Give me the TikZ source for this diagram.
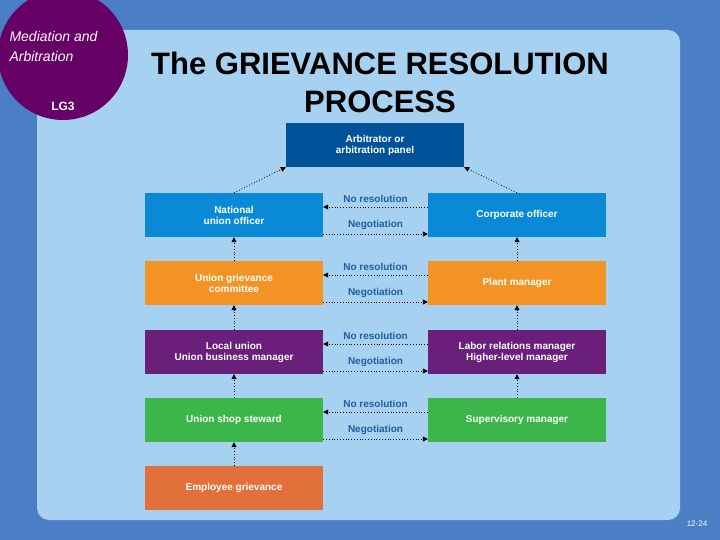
\documentclass[tikz,border=0pt]{standalone}
\usepackage{fontspec}
\setmainfont{Liberation Sans}
\usetikzlibrary{positioning,calc,arrows.meta}
\definecolor{slideblue}{HTML}{4A7FC6}
\definecolor{panelblue}{HTML}{A6D1F0}
\definecolor{lgpurple}{HTML}{660066}
\definecolor{arbblue}{HTML}{00539B}
\definecolor{natblue}{HTML}{0A8AD6}
\definecolor{plantorange}{HTML}{F39323}
\definecolor{localpurple}{HTML}{6A1F7A}
\definecolor{stewgreen}{HTML}{3CB54A}
\definecolor{empred}{HTML}{E2703A}
\definecolor{labelblue}{HTML}{1F5FA0}
\tikzset{
  box/.style={minimum width=178pt, minimum height=44pt, text=white,
    font=\fontsize{10}{11}\selectfont\bfseries, align=center, inner sep=0pt},
  flow/.style={dotted, thick, -{Triangle[length=5pt,width=5pt]}},
  tag/.style={text=labelblue, font=\fontsize{10}{11}\selectfont\bfseries}
}
\begin{document}
\begin{tikzpicture}[x=1pt,y=-1pt]
\useasboundingbox (0,0) rectangle (720,540);
\fill[slideblue] (0,0) rectangle (720,540);
\fill[panelblue, rounded corners=12pt] (37,30) rectangle (680,520);
\fill[lgpurple] (63,55) circle (65);
\node[font=\itshape\fontsize{14}{20}\selectfont, text=white, align=left, anchor=north west]
  (topic) at (6,28) {Mediation and\\Arbitration};
\node[font=\bfseries\fontsize{12}{14}\selectfont, text=white] (lg) at (63,106) {LG3};
\node[font=\bfseries\fontsize{31}{38}\selectfont, align=center] (title) at (380,82)
  {The GRIEVANCE RESOLUTION\\PROCESS};
\node[font=\rmfamily\fontsize{8}{9}\selectfont, text=white] (page) at (697,524) {12-24};

% boxes
\node[box, fill=arbblue] (arb) at (375,145) {Arbitrator or\\arbitration panel};
\node[box, fill=natblue] (nat) at (234,215) {National\\union officer};
\node[box, fill=natblue] (corp) at (517,215) {Corporate officer};
\node[box, fill=plantorange] (ugc) at (234,283) {Union grievance\\committee};
\node[box, fill=plantorange] (plant) at (517,283) {Plant manager};
\node[box, fill=localpurple] (local) at (234,352) {Local union\\Union business manager};
\node[box, fill=localpurple] (labor) at (517,352) {Labor relations manager\\Higher-level manager};
\node[box, fill=stewgreen] (stew) at (234,420) {Union shop steward};
\node[box, fill=stewgreen] (super) at (517,420) {Supervisory manager};
\node[box, fill=empred] (emp) at (234,488) {Employee grievance};

% between the two sides
\foreach \u/\m in {nat/corp, ugc/plant, local/labor, stew/super} {
  \draw[flow] ($(\m.west)+(0,-8)$) -- node[tag, above=1pt] {No resolution} ($(\u.east)+(0,-8)$);
  \draw[flow] ($(\u.east)+(0,19)$) -- node[tag, above=1pt] {Negotiation} ($(\m.west)+(0,19)$);
}
% up the ladder
\foreach \a/\b in {emp/stew, stew/local, local/ugc, ugc/nat, super/labor, labor/plant, plant/corp}
  \draw[flow] (\a.north) -- (\b.south);
\draw[flow] (nat.north) -- (arb.south west);
\draw[flow] (corp.north) -- (arb.south east);
\end{tikzpicture}
\end{document}
